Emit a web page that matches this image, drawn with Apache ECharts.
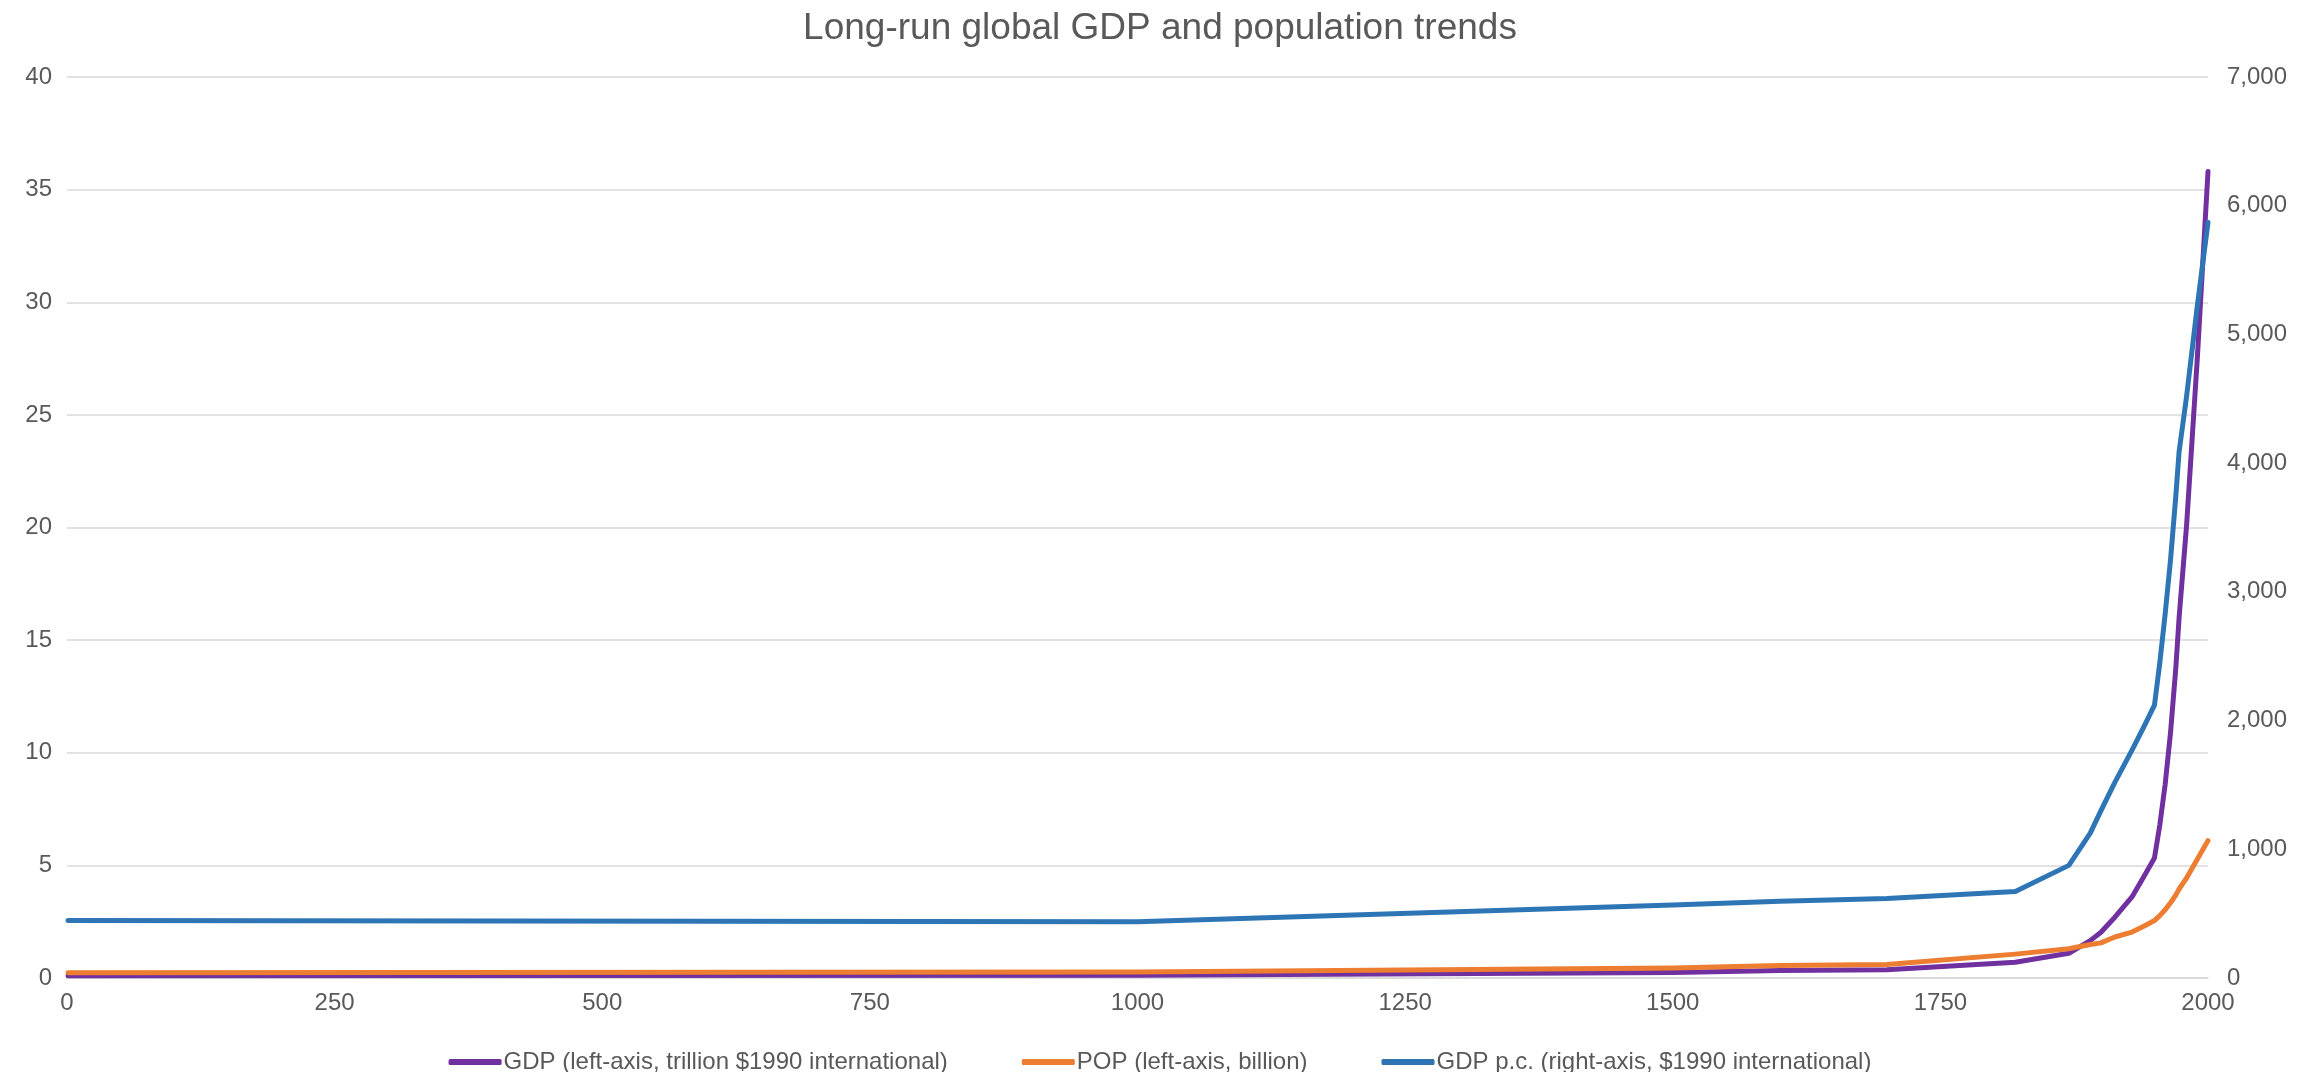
<!DOCTYPE html>
<html>
<head>
<meta charset="utf-8">
<title>Long-run global GDP and population trends</title>
<script src="https://cdn.jsdelivr.net/npm/echarts@6/dist/echarts.min.js"></script>
<style>
  html, body { margin: 0; padding: 0; background: #ffffff; }
  #chart { width: 2320px; height: 1072px; }
</style>
</head>
<body>
<div id="chart"></div>
<script>
// Benchmark years (AD) and the three long-run series
const years  = [1, 1000, 1500, 1600, 1700, 1820, 1870, 1890, 1900, 1913, 1929, 1940, 1950, 1955, 1960, 1965, 1970, 1973, 1980, 1990, 2000];
// World GDP, trillion 1990 international dollars (left axis)
const gdp    = [0.103, 0.117, 0.248, 0.331, 0.371, 0.70, 1.10, 1.66, 2.03, 2.70, 3.60, 4.50, 5.33, 6.80, 8.60, 10.9, 13.8, 16.0, 20.1, 27.5, 35.8];
// World population, billion (left axis)
const pop    = [0.23, 0.27, 0.44, 0.56, 0.60, 1.06, 1.30, 1.49, 1.56, 1.82, 2.04, 2.30, 2.55, 2.77, 3.03, 3.34, 3.69, 3.95, 4.44, 5.27, 6.10];
// World GDP per capita, 1990 international dollars (right axis)
const gdpPc  = [447, 437, 568, 596, 617, 672, 875, 1125, 1300, 1520, 1770, 1950, 2120, 2450, 2830, 3250, 3750, 4090, 4520, 5220, 5870];

const seriesNames = [
  'GDP (left-axis, trillion $1990 international)',
  'POP (left-axis, billion)',
  'GDP p.c. (right-axis, $1990 international)'
];
const seriesColors = ['#7030A0', '#ED7D31', '#2E75B6'];

const pairs = vals => years.map((y, i) => [y, vals[i]]);

const textColor = '#595959';
const fontFamily = 'Liberation Sans, Arial, sans-serif';

const chart = echarts.init(document.getElementById('chart'), null, { renderer: 'canvas' });

const lineSeries = (name, vals, color, axisIndex) => ({
  name: name,
  type: 'line',
  yAxisIndex: axisIndex,
  data: pairs(vals),
  showSymbol: false,
  symbol: 'none',
  smooth: false,
  color: color,
  lineStyle: { width: 5, color: color, cap: 'round', join: 'round' },
  emphasis: { disabled: true },
  animation: false
});

chart.setOption({
  backgroundColor: '#ffffff',
  animation: false,
  title: {
    text: 'Long-run global GDP and population trends',
    left: 'center',
    top: 5,
    textStyle: { color: textColor, fontFamily: fontFamily, fontSize: 37, fontWeight: 'normal' }
  },
  legend: {
    top: 1045,
    left: 'center',
    data: seriesNames,
    icon: 'roundRect',
    itemWidth: 53,
    itemHeight: 6,
    itemGap: 74,
    textStyle: { color: textColor, fontFamily: fontFamily, fontSize: 24, padding: [0, 0, 0, -3] }
  },
  grid: { left: 67, right: 112, top: 77, bottom: 94, containLabel: false },
  xAxis: {
    type: 'value',
    min: 0,
    max: 2000,
    interval: 250,
    axisLine: { show: true, lineStyle: { color: '#D9D9D9', width: 1.5 } },
    axisTick: { show: false },
    splitLine: { show: false },
    axisLabel: { color: textColor, fontFamily: fontFamily, fontSize: 24, margin: 13, formatter: v => String(v) }
  },
  yAxis: [
    {
      type: 'value',
      min: 0,
      max: 40,
      interval: 5,
      axisLine: { show: false },
      axisTick: { show: false },
      splitLine: { show: true, lineStyle: { color: '#D9D9D9', width: 1.5 } },
      axisLabel: { color: textColor, fontFamily: fontFamily, fontSize: 24, margin: 15 }
    },
    {
      type: 'value',
      min: 0,
      max: 7000,
      interval: 1000,
      position: 'right',
      axisLine: { show: false },
      axisTick: { show: false },
      splitLine: { show: false },
      axisLabel: {
        color: textColor, fontFamily: fontFamily, fontSize: 24, margin: 19,
        formatter: v => v.toLocaleString('en-US')
      }
    }
  ],
  series: [
    lineSeries(seriesNames[0], gdp, seriesColors[0], 0),
    lineSeries(seriesNames[1], pop, seriesColors[1], 0),
    lineSeries(seriesNames[2], gdpPc, seriesColors[2], 1)
  ]
});
</script>
</body>
</html>
